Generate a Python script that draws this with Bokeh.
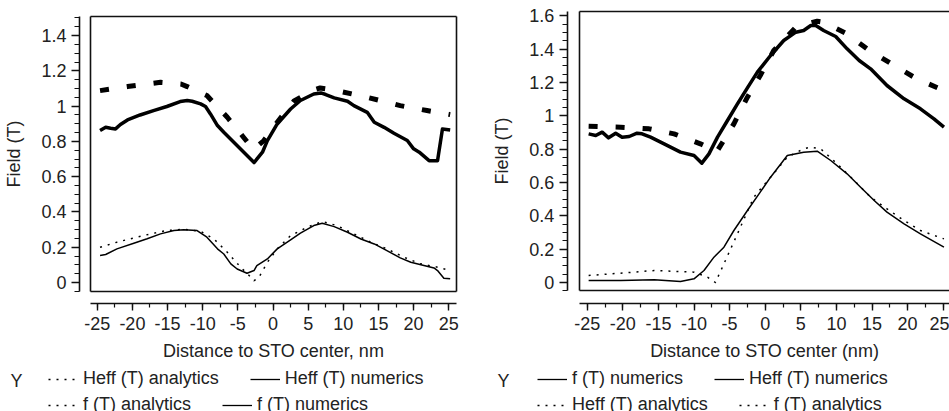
from bokeh.plotting import figure
from bokeh.models import (Range1d, LinearAxis, FixedTicker,
                          Legend, LegendItem, Label)
from bokeh.layouts import row
from bokeh.embed import file_html
from bokeh.resources import INLINE

# ---------------- data: left panel ----------------
L_heff_num_x = [-24.6, -23.8, -23.1, -22.4, -21.7, -20.7, -18.9, -17.0, -15.1, -13.2,
                -12.2, -11.5, -10.3, -9.6, -8.9, -7.9, -7.0, -2.7, -1.5, -0.8,
                0.6, 2.5, 3.9, 5.8, 6.8, 7.5, 8.7, 10.6, 11.5, 13.4,
                14.4, 15.8, 17.2, 19.1, 20.0, 20.8, 22.2, 23.4, 24.1, 25.2]
L_heff_num_y = [0.862, 0.880, 0.875, 0.871, 0.896, 0.922, 0.950, 0.975, 0.998, 1.026,
                1.032, 1.028, 1.013, 0.998, 0.956, 0.890, 0.852, 0.680, 0.739, 0.805,
                0.899, 0.984, 1.032, 1.069, 1.075, 1.066, 1.047, 1.028, 1.003, 0.965,
                0.909, 0.880, 0.846, 0.805, 0.758, 0.739, 0.691, 0.691, 0.871, 0.865]

L_heff_ana_x = [-24.6, -20.7, -17.0, -16.0, -13.1, -12.2, -9.4, -6.5, -4.2, -2.8,
                -1.3, 0.6, 3.0, 5.8, 6.7, 8.6, 13.4, 18.1, 21.9, 25.2]
L_heff_ana_y = [1.088, 1.111, 1.130, 1.135, 1.126, 1.111, 1.060, 0.937, 0.824, 0.755,
                0.805, 0.909, 1.030, 1.092, 1.103, 1.092, 1.050, 1.003, 0.975, 0.952]

L_f_num_x = [-24.6, -23.8, -22.2, -19.8, -17.9, -16.0, -14.1, -12.7, -10.8, -9.4,
             -7.9, -7.0, -6.0, -5.1, -3.7, -2.7, -2.3, -0.8, 0.6, 2.5,
             3.9, 5.8, 7.0, 8.7, 10.6, 12.5, 14.4, 16.2, 18.1, 19.6,
             21.9, 22.9, 23.4, 24.3, 25.2]
L_f_num_y = [0.153, 0.159, 0.191, 0.223, 0.248, 0.276, 0.295, 0.300, 0.295, 0.257,
             0.191, 0.162, 0.106, 0.077, 0.053, 0.068, 0.096, 0.134, 0.191, 0.242,
             0.280, 0.323, 0.336, 0.317, 0.285, 0.247, 0.219, 0.181, 0.140, 0.115,
             0.093, 0.083, 0.068, 0.025, 0.021]

L_f_ana_x = [-24.6, -22.2, -19.8, -17.4, -15.1, -12.7, -10.3, -8.4, -6.5, -4.6,
             -3.4, -2.7, -2.0, -0.8, 0.6, 2.5, 4.9, 7.0, 9.1, 11.5,
             13.9, 16.2, 18.6, 21.0, 23.4, 25.2]
L_f_ana_y = [0.200, 0.229, 0.253, 0.276, 0.295, 0.302, 0.291, 0.247, 0.172, 0.087,
             0.040, 0.011, 0.030, 0.115, 0.191, 0.266, 0.314, 0.346, 0.323, 0.276,
             0.229, 0.191, 0.144, 0.106, 0.087, 0.068]

# ---------------- data: right panel ----------------
R_heff_num_x = [-24.8, -23.8, -22.9, -22.0, -21.0, -20.1, -19.1, -18.0, -17.3, -16.1,
                -14.2, -11.9, -10.0, -8.9, -7.9, -6.7, -5.3, -3.9, -2.5, -1.1,
                0.75, 2.6, 4.3, 5.4, 6.4, 7.1, 8.2, 9.9, 11.5, 13.2,
                14.8, 17.1, 19.5, 21.8, 23.7, 25.1]
R_heff_num_y = [0.892, 0.882, 0.902, 0.868, 0.896, 0.872, 0.876, 0.896, 0.892, 0.872,
                0.832, 0.782, 0.762, 0.716, 0.772, 0.872, 0.972, 1.072, 1.168, 1.262,
                1.362, 1.452, 1.502, 1.512, 1.542, 1.542, 1.512, 1.476, 1.402, 1.332,
                1.282, 1.182, 1.102, 1.042, 0.982, 0.932]

R_heff_ana_x = [-24.8, -20.3, -16.3, -12.8, -9.1, -6.8, -4.4, -2.5, -0.7, 1.2,
                4.3, 7.3, 8.2, 11.5, 14.3, 18.1, 21.3, 25.1]
R_heff_ana_y = [0.938, 0.932, 0.922, 0.892, 0.832, 0.785, 0.952, 1.112, 1.242, 1.392,
                1.532, 1.568, 1.562, 1.492, 1.402, 1.302, 1.222, 1.152]

R_f_num_x = [-24.8, -20.3, -15.6, -11.9, -10.0, -8.6, -7.2, -5.8, -4.4, -2.5,
             -0.7, 0.75, 3.1, 5.4, 7.3, 9.2, 11.5, 13.4, 15.3, 17.1,
             19.5, 21.8, 25.1]
R_f_num_y = [0.012, 0.012, 0.016, 0.006, 0.022, 0.072, 0.152, 0.212, 0.312, 0.432,
             0.542, 0.632, 0.762, 0.782, 0.788, 0.732, 0.652, 0.572, 0.492, 0.422,
             0.352, 0.292, 0.212]

R_f_ana_x = [-24.8, -20.3, -15.6, -10.0, -8.1, -7.0, -5.8, -3.9, -1.6, 0.75,
             3.1, 5.4, 6.4, 7.8, 10.1, 12.5, 14.8, 17.1, 19.5, 21.8, 25.1]
R_f_ana_y = [0.042, 0.056, 0.072, 0.062, 0.032, 0.0, 0.112, 0.292, 0.512, 0.632,
             0.752, 0.802, 0.812, 0.802, 0.712, 0.612, 0.512, 0.442, 0.372, 0.312, 0.262]

# ---------------- ticks / labels ----------------
x_ticks = [-25, -20, -15, -10, -5, 0, 5, 10, 15, 20, 25]
x_tick_labels = ["-25", "-20", "-15", "-10", "-5", "0", "5", "10", "15", "20", "25"]
x_minor = [-25, -22.5, -20, -17.5, -15, -12.5, -10, -7.5, -5, -2.5, 0, 2.5, 5, 7.5,
           10, 12.5, 15, 17.5, 20, 22.5, 25]

L_y_ticks = [0, 0.2, 0.4, 0.6, 0.8, 1, 1.2, 1.4]
L_y_tick_labels = ["0", "0.2", "0.4", "0.6", "0.8", "1", "1.2", "1.4"]
R_y_ticks = [0, 0.2, 0.4, 0.6, 0.8, 1, 1.2, 1.4, 1.6]
R_y_tick_labels = ["0", "0.2", "0.4", "0.6", "0.8", "1", "1.2", "1.4", "1.6"]
L_y_minor = [round(-0.05 + 0.05 * i, 2) for i in range(32)]
R_y_minor = [round(-0.05 + 0.05 * i, 2) for i in range(34)]

FONT = "Liberation Sans"
TXT = "#222222"
FS = "18px"
INK = "#111111"
NAN = float("nan")


def edge_axis(loc, bounds):
    """A bare axis line (no ticks, no labels) used as one edge of the plot box."""
    ax = LinearAxis(ticker=FixedTicker(ticks=[], minor_ticks=[]),
                    fixed_location=loc, bounds=bounds)
    ax.axis_line_color = INK
    ax.axis_line_width = 1.6
    ax.major_tick_line_color = None
    ax.minor_tick_line_color = None
    ax.major_label_text_font_size = "0px"
    ax.major_label_text_color = None
    return ax


def make_panel(width, xr, yr, box, axis_at, y_ticks, y_labels, y_minor, xlabel,
               series, legend_rows, y_mark_x):
    p = figure(width=width, height=411, x_range=Range1d(*xr), y_range=Range1d(*yr),
               output_backend="svg", toolbar_location=None,
               x_axis_type=None, y_axis_type=None, min_border=0,
               min_border_left=0, min_border_right=0,
               min_border_top=0, min_border_bottom=0)
    p.outline_line_color = None
    p.background_fill_color = "white"
    p.border_fill_color = "white"

    for (xs, ys, w, dash) in series:
        p.line(xs, ys, line_color="black", line_width=w, line_dash=dash,
               line_join="round")

    bx0, bx1, by0, by1 = box
    # inset plot box, drawn as four bare axis lines
    p.add_layout(edge_axis(by1, (bx0, bx1)), "above")
    p.add_layout(edge_axis(by0, (bx0, bx1)), "below")
    p.add_layout(edge_axis(bx0, (by0, by1)), "left")
    if bx1 <= xr[1]:
        p.add_layout(edge_axis(bx1, (by0, by1)), "right")

    yloc, xloc = axis_at
    yax = LinearAxis(ticker=FixedTicker(ticks=y_ticks, minor_ticks=y_minor),
                     bounds=(by0, by1), axis_label="Field (T)", fixed_location=yloc,
                     major_label_overrides={t: l for t, l in zip(y_ticks, y_labels)})
    xax = LinearAxis(ticker=FixedTicker(ticks=x_ticks, minor_ticks=x_minor),
                     bounds=(bx0, min(bx1, xr[1])), axis_label=xlabel,
                     fixed_location=xloc,
                     major_label_overrides={t: l for t, l in zip(x_ticks, x_tick_labels)})
    for ax in (yax, xax):
        ax.axis_line_color = INK
        ax.axis_line_width = 1.6
        ax.major_tick_line_color = INK
        ax.minor_tick_line_color = INK
        ax.major_tick_line_width = 1.4
        ax.minor_tick_line_width = 1.2
        ax.major_tick_in = 0
        ax.minor_tick_in = 0
        ax.major_label_text_font = FONT
        ax.major_label_text_font_size = FS
        ax.major_label_text_color = TXT
        ax.axis_label_text_font = FONT
        ax.axis_label_text_font_size = FS
        ax.axis_label_text_font_style = "normal"
        ax.axis_label_text_color = TXT
    yax.major_tick_out = 8
    yax.minor_tick_out = 5
    yax.major_label_standoff = 5
    yax.axis_label_standoff = 14
    xax.major_tick_out = 7
    xax.minor_tick_out = 4
    xax.major_label_standoff = 6
    xax.axis_label_standoff = 8
    p.add_layout(yax, "left")
    p.add_layout(xax, "below")

    for (loc, items) in legend_rows:
        litems = []
        for lab, dash in items:
            r = p.line(x=[NAN, NAN], y=[NAN, NAN], line_color="black",
                       line_width=1.3, line_dash=dash)
            litems.append(LegendItem(label=lab, renderers=[r]))
        leg = Legend(items=litems, location=loc, orientation="horizontal",
                     glyph_width=30, glyph_height=20, label_height=20,
                     label_standoff=5, spacing=31, padding=0, margin=0,
                     border_line_color=None, background_fill_alpha=0,
                     label_text_font=FONT, label_text_font_size=FS,
                     label_text_color=TXT)
        p.add_layout(leg, "center")

    p.add_layout(Label(x=y_mark_x, y=31, x_units="screen", y_units="screen",
                       text="Y", text_font=FONT, text_font_size=FS,
                       text_color=TXT, text_baseline="middle", text_align="left"))
    return p


left = make_panel(
    470, (-38.76, 28.09), (-0.731, 1.599), (-25.96, 26.10, -0.051, 1.508),
    (-27.52, -0.119), L_y_ticks, L_y_tick_labels, L_y_minor,
    "Distance to STO center, nm",
    [(L_heff_ana_x, L_heff_ana_y, 5, "9 18"),
     (L_heff_num_x, L_heff_num_y, 3.5, "solid"),
     (L_f_ana_x, L_f_ana_y, 1.5, "2 6"),
     (L_f_num_x, L_f_num_y, 1.5, "solid")],
    [((48, 22), [("Heff (T) analytics", "2 6"), ("Heff (T) numerics", "solid")]),
     ((48, -4), [("f (T) analytics", "2 6"), ("f (T) numerics", "solid")])],
    10)

right = make_panel(
    479, (-41.39, 25.88), (-0.774, 1.692), (-26.14, 27.5, -0.048, 1.626),
    (-27.81, -0.126), R_y_ticks, R_y_tick_labels, R_y_minor,
    "Distance to STO center (nm)",
    [(R_heff_ana_x, R_heff_ana_y, 5, "9 18"),
     (R_heff_num_x, R_heff_num_y, 3.5, "solid"),
     (R_f_ana_x, R_f_ana_y, 1.5, "2 6"),
     (R_f_num_x, R_f_num_y, 1.5, "solid")],
    [((67, 22), [("f (T) numerics", "solid"), ("Heff (T) numerics", "solid")]),
     ((67, -4), [("Heff (T) analytics", "2 6"), ("f (T) analytics", "2 6")])],
    27)

layout = row(left, right)
open("out.html", "w").write(file_html(layout, INLINE))
